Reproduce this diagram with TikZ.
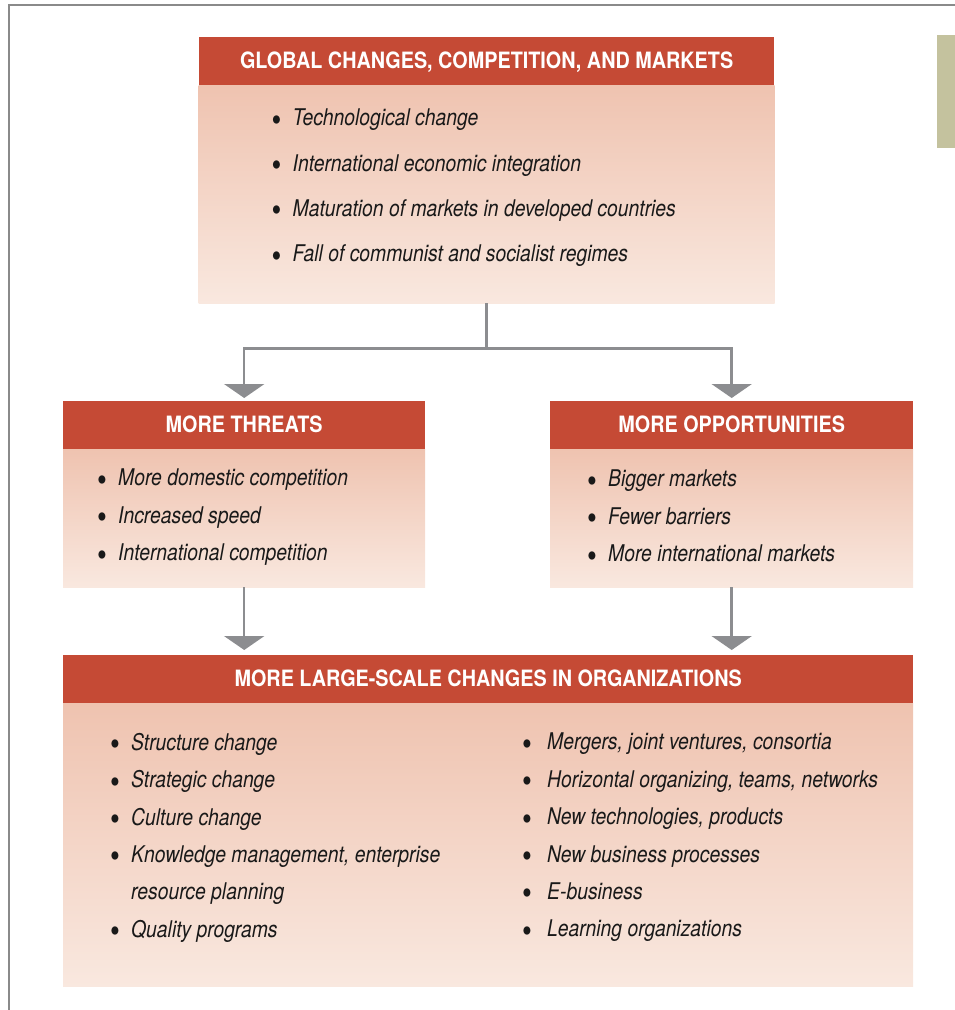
\documentclass[tikz,border=0pt]{standalone}
\usepackage{fontspec}
\usepackage{xcolor}
\usepackage{graphicx}
\setmainfont{TeX Gyre Heros}[FakeStretch=0.84]
\newfontfamily\headfont{TeX Gyre Heros}[FakeStretch=0.88]
\usepackage{tikz}
\usetikzlibrary{arrows.meta, positioning}
\definecolor{headred}{HTML}{C54A35}
\definecolor{paneltop}{HTML}{EFC3B0}
\definecolor{panelbot}{HTML}{F9E8DF}
\definecolor{linkgray}{HTML}{8C8D90}
\definecolor{framegray}{HTML}{8A8A8A}
\definecolor{tabgreen}{HTML}{C4C29E}
\newlength{\bulw}
\setlength{\bulw}{21pt}
\newcommand{\itm}[1]{\makebox[\bulw][l]{\raisebox{-5.5pt}{\scalebox{1.45}{\upshape\textbullet}}}#1}
\tikzset{
  head/.style={rectangle, fill=headred, text=white, font=\headfont\bfseries\fontsize{22.5}{26}\selectfont, inner sep=0pt, text height=16pt, text depth=0pt, minimum height=47.5pt},
  panel/.style={rectangle, top color=paneltop, bottom color=panelbot, inner sep=0pt},
  items/.style={align=left, inner sep=0pt, anchor=north west, text=black!90, font=\itshape\fontsize{23}{37.4}\selectfont},
  arrow/.style={-{Triangle[width=40pt, length=14pt]}, draw=linkgray, line width=2.5pt}
}

\begin{document}
\begin{tikzpicture}[x=1pt, y=-1pt]
  \useasboundingbox (0,0) rectangle (955,1010);
  % page frame and side tab
  \draw[framegray, line width=2pt] (9,1010) -- (9,5) -- (955,5);
  \fill[tabgreen] (937,35) rectangle (955,148);

  % global changes
  \node[head, anchor=north west, minimum width=575pt] (ghead) at (199,37) {GLOBAL CHANGES, COMPETITION, AND MARKETS};
  \node[panel, below=0pt of ghead, minimum width=576pt, minimum height=218pt] (gbody) {};
  \node[items, font=\itshape\fontsize{23}{45.3}\selectfont, below right=24pt and 73pt of gbody.north west] (glist) {%
    \itm{Technological change}\\
    \itm{International economic integration}\\
    \itm{Maturation of markets in developed countries}\\
    \itm{Fall of communist and socialist regimes}};

  % threats and opportunities
  \node[head, anchor=north west, minimum width=362pt] (thead) at (63,401) {MORE THREATS};
  \node[panel, below=0pt of thead, minimum width=362pt, minimum height=138pt] (tbody) {};
  \node[items, below right=20pt and 34pt of tbody.north west] (tlist) {%
    \itm{More domestic competition}\\
    \itm{Increased speed}\\
    \itm{International competition}};

  \node[head, anchor=north west, minimum width=363pt] (ohead) at (550,401) {MORE OPPORTUNITIES};
  \node[panel, below=0pt of ohead, minimum width=363pt, minimum height=138pt] (obody) {};
  \node[items, below right=21pt and 37pt of obody.north west] (olist) {%
    \itm{Bigger markets}\\
    \itm{Fewer barriers}\\
    \itm{More international markets}};

  % large-scale changes
  \node[head, anchor=north west, minimum width=850pt] (bhead) at (63,655) {MORE LARGE-SCALE CHANGES IN ORGANIZATIONS};
  \node[panel, below=0pt of bhead, minimum width=850pt, minimum height=283pt] (bbody) {};
  \node[items, below right=30pt and 47pt of bbody.north west] (blist) {%
    \itm{Structure change}\\
    \itm{Strategic change}\\
    \itm{Culture change}\\
    \itm{Knowledge management, enterprise}\\
    \hspace*{\bulw}resource planning\\
    \itm{Quality programs}};
  \setlength{\bulw}{25pt}
  \node[items, below right=30pt and 459pt of bbody.north west] (rlist) {%
    \itm{Mergers, joint ventures, consortia}\\
    \itm{Horizontal organizing, teams, networks}\\
    \itm{New technologies, products}\\
    \itm{New business processes}\\
    \itm{E-business}\\
    \itm{Learning organizations}};

  % connectors
  \coordinate[below=45pt of gbody.south] (split);
  \draw[arrow, shorten >=3pt] (gbody.south) -- (split) -| (thead.north);
  \draw[arrow, shorten >=3pt] (split) -| (ohead.north);
  \draw[arrow, shorten >=5pt] (tbody.south) -- (tbody.south |- bhead.north);
  \draw[arrow, shorten >=5pt] (obody.south) -- (obody.south |- bhead.north);
\end{tikzpicture}
\end{document}
